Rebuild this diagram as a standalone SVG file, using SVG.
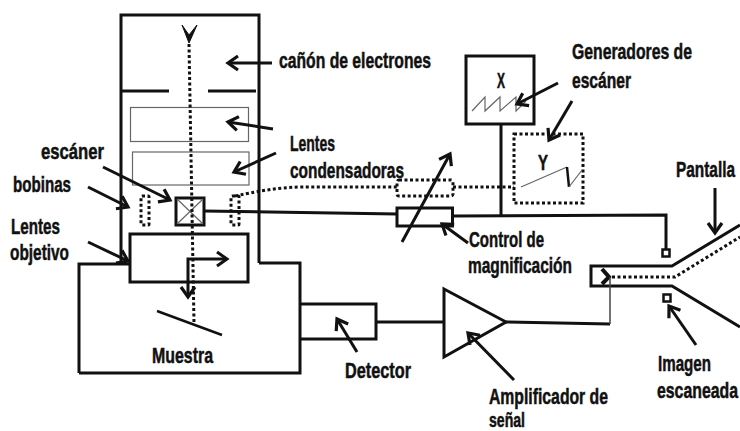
<svg xmlns="http://www.w3.org/2000/svg" width="740" height="431" viewBox="0 0 740 431">
<style>
.t{font-family:"Liberation Sans",Arial,sans-serif;font-weight:700;font-size:22px;fill:#111;stroke:#111;stroke-width:.5}
.l{fill:none;stroke:#111;stroke-width:3}
.a{fill:none;stroke:#111;stroke-width:3;marker-end:url(#h)}
.d{fill:none;stroke:#111;stroke-width:3;stroke-dasharray:3 2.5}
.g{fill:none;stroke:#666;stroke-width:1.2}
</style>
<defs>
<marker id="h" markerUnits="userSpaceOnUse" markerWidth="16" markerHeight="18" refX="13" refY="9" orient="auto">
<path d="M3 2L13 9L3 16" fill="none" stroke="#111" stroke-width="3.2"/>
</marker>
</defs>
<g id="columna">
<path class="l" d="M121 264V15H259V263"/>
<path class="l" d="M122 91H169M208 91H256"/>
<path class="l" d="M79 373V264H129M259 263H300V373H79"/>
</g>
<g id="lentes-condensadoras-cajas">
<rect class="g" x="130.500" y="107.500" width="118" height="34"/>
<rect class="g" x="132.500" y="152" width="116.500" height="33"/>
</g>
<g id="bobinas-nodo">
<rect class="d" x="141" y="196" width="8" height="29" rx="1"/>
<rect class="d" x="231" y="196" width="8" height="29" rx="1"/>
</g>
<g id="lente-objetivo">
<rect class="l" x="130" y="234" width="118" height="48" fill="#fff"/>
</g>
<g id="muestra">
<path d="M157 311L222 335" fill="none" stroke="#111" stroke-width="2.500"/>
</g>
<g id="detector">
<path class="l" d="M300 304H376V339H300"/>
</g>
<g id="amplificador">
<path class="l" d="M444 289L506 322L444 357Z"/>
</g>
<g id="generador-x">
<rect class="l" x="466" y="56" width="68" height="68"/>
<path class="g" d="M472 111L485 97V111L500 97V111L516 97V111L526 101"/>
</g>
<g id="generador-y">
<rect class="d" x="514" y="134" width="69" height="69"/>
<path class="g" d="M521 187L567 167"/>
<path d="M567 167L569 187" fill="none" stroke="#111" stroke-width="2.500"/>
<path class="g" d="M569 187L582 170"/>
</g>
<g id="control">
<rect class="l" x="397" y="208" width="55.500" height="18" fill="#fff"/>
<rect class="d" x="397" y="180" width="56" height="16" rx="2"/>
</g>
<g id="pantalla">
<path class="l" d="M740 225L672 266H591V286H672L740 327"/>
<path class="d" d="M612 277H675L740 237"/>
<path d="M602 269L609 277L602 284" fill="none" stroke="#111" stroke-width="4"/>
<rect x="662.500" y="249.500" width="7" height="7" fill="#fff" stroke="#111" stroke-width="2.500"/>
<rect x="663.500" y="294.500" width="7" height="7" fill="#fff" stroke="#111" stroke-width="2.500"/>
</g>
<g id="escaner">
<rect x="176" y="198" width="28" height="27" fill="#fff" stroke="#111" stroke-width="3"/>
<path class="g" d="M177 199L203 224M203 199L177 224"/>
</g>
<g id="conectores">
<path class="d" d="M189 44L194 323"/>
<path d="M182 25L189 43L197 25L189 35Z" fill="#111" stroke="#111" stroke-width="1"/>
<path class="l" d="M204 211L397 214M452 216L666 215V249"/>
<path class="l" d="M501 124V216"/>
<path class="d" d="M235 196C265 190 275 188 300 187H397M453 187H514"/>
<path class="l" d="M376 322H444"/>
<path class="l" d="M506 322L610 324"/>
<path d="M610 324V277" fill="none" stroke="#444" stroke-width="1.500"/>
<path class="a" d="M226 259H188V297"/>
<path class="l" d="M217 252L227 259L217 266"/>
<path class="a" d="M272 63H228"/>
<path class="a" d="M273 129L228 122"/>
<path class="a" d="M276 153L234 172"/>
<path class="a" d="M103 167L170 200"/>
<path class="a" d="M88 187L128 207"/>
<path class="a" d="M88 242L128 261"/>
<path class="a" d="M402 242L450 154"/>
<path class="a" d="M468 243L442 224"/>
<path class="a" d="M558 83L517 104"/>
<path class="a" d="M572 101L549 140"/>
<path class="a" d="M715 188V233"/>
<path class="a" d="M696 345L669 306"/>
<path class="a" d="M357 352L337 319"/>
<path class="a" d="M514 380L468 333"/>
</g>
<g id="etiquetas">
<text class="t" x="279" y="68" textLength="152" lengthAdjust="spacingAndGlyphs">cañón de electrones</text>
<text class="t" x="572" y="59" textLength="120" lengthAdjust="spacingAndGlyphs">Generadores de</text>
<text class="t" x="572" y="88" textLength="59" lengthAdjust="spacingAndGlyphs">escáner</text>
<text class="t" x="290" y="151" textLength="45" lengthAdjust="spacingAndGlyphs">Lentes</text>
<text class="t" x="290" y="178" textLength="114" lengthAdjust="spacingAndGlyphs">condensadoras</text>
<text class="t" x="41" y="159" textLength="63" lengthAdjust="spacingAndGlyphs">escáner</text>
<text class="t" x="13" y="192" textLength="58" lengthAdjust="spacingAndGlyphs">bobinas</text>
<text class="t" x="11" y="234" textLength="49" lengthAdjust="spacingAndGlyphs">Lentes</text>
<text class="t" x="10" y="260" textLength="59" lengthAdjust="spacingAndGlyphs">objetivo</text>
<text class="t" x="152" y="363" textLength="61" lengthAdjust="spacingAndGlyphs">Muestra</text>
<text class="t" x="345" y="378" textLength="66" lengthAdjust="spacingAndGlyphs">Detector</text>
<text class="t" x="469" y="247" textLength="75" lengthAdjust="spacingAndGlyphs">Control de</text>
<text class="t" x="468" y="273" textLength="104" lengthAdjust="spacingAndGlyphs">magnificación</text>
<text class="t" transform="translate(676 177) scale(.7 1)">Pantalla</text>
<text class="t" x="658" y="371" textLength="53" lengthAdjust="spacingAndGlyphs">Imagen</text>
<text class="t" transform="translate(657 398) scale(.72 1)">escaneada</text>
<text class="t" x="489" y="404" textLength="119" lengthAdjust="spacingAndGlyphs">Amplificador de</text>
<text class="t" x="489" y="427" textLength="36" lengthAdjust="spacingAndGlyphs" style="font-size:20px">señal</text>
<text class="t" x="497" y="88" textLength="8" lengthAdjust="spacingAndGlyphs">X</text>
<text class="t" x="538" y="170" textLength="10" lengthAdjust="spacingAndGlyphs">Y</text>
</g>
</svg>
